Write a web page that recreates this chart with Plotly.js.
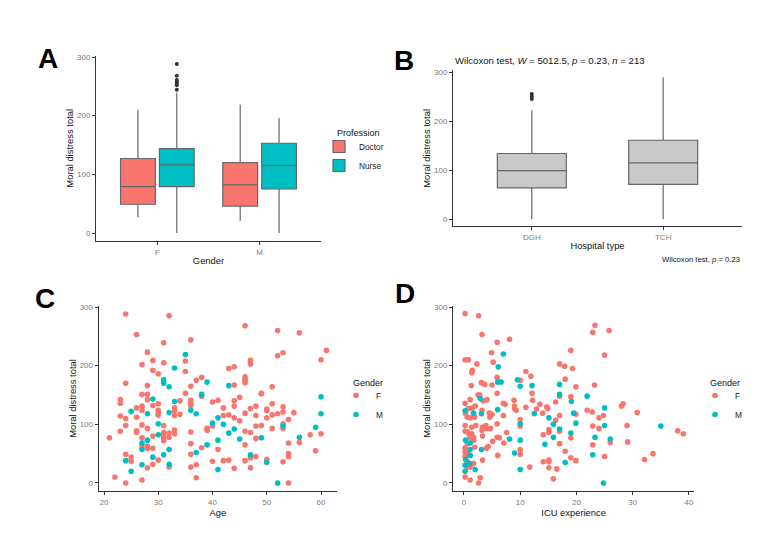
<!DOCTYPE html>
<html>
<head>
<meta charset="utf-8">
<script src="https://cdn.plot.ly/plotly-3.0.1.min.js"></script>
<style>html,body{margin:0;padding:0;background:#fff}#chart{width:779px;height:551px}</style>
</head>
<body>
<div id="chart"></div>
<script>
// ---------- DATA ----------
// Panel A: moral distress by gender and profession (box statistics)
const genderCats = ['F', 'M'];
const professions = ['Doctor', 'Nurse'];
const doctorQ1 = [49, 46];
const doctorMedian = [79, 82];
const doctorQ3 = [127, 120];
const doctorLower = [27, 21];
const doctorUpper = [210, 219];
const nurseQ1 = [79, 75];
const nurseMedian = [116, 115];
const nurseQ3 = [144, 153];
const nurseLower = [0, 0];
const nurseUpper = [239, 196];
const nurseOutliersF = [288, 268, 261, 258, 255, 252, 244];

// Panel B: moral distress by hospital type
const hospitalTypes = ['DGH', 'TCH'];
const hospQ1 = [64, 71];
const hospMedian = [99, 115];
const hospQ3 = [134, 161];
const hospLower = [0, 0];
const hospUpper = [222, 289];
const dghOutliers = [255, 250, 245];

// Panel C: age vs moral distress
const cAgeF = [21,22,24,24,24,24,24,24,23,23,23,23,25,25,26,26,26,26,26,27,27,27,27,27,27,27,27,28,28,28,28,28,28,28,28,29,29,29,29,29,29,30,30,30,30,30,30,31,31,31,31,31,31,31,32,32,32,32,33,33,33,33,33,34,34,35,35,35,36,36,36,36,36,36,36,36,36,37,37,37,38,38,38,39,39,40,40,40,41,41,42,42,42,43,43,43,44,44,44,44,44,44,45,45,46,46,46,46,46,46,46,46,46,47,47,47,47,47,47,48,48,48,48,48,49,49,49,50,50,50,50,51,51,51,51,52,52,52,53,53,53,53,53,53,54,54,54,54,54,55,56,56,58,59,60,60,61];
const cMdF = [77,10,288,170,110,98,49,0,142,136,114,88,44,37,253,128,112,89,86,202,151,131,124,99,77,63,5,223,166,151,142,93,63,59,26,209,192,132,80,59,32,186,135,124,119,116,39,239,205,98,86,82,77,72,285,85,78,27,128,123,115,90,84,140,117,208,190,153,244,165,141,135,132,87,67,49,27,175,31,9,180,148,60,93,90,138,97,37,141,57,128,115,38,195,116,39,198,167,140,131,111,25,146,106,268,181,177,174,171,119,88,65,38,209,203,127,86,43,26,131,115,97,76,45,153,152,98,126,123,111,40,164,135,116,93,260,217,118,222,130,121,101,93,36,108,68,50,45,0,120,256,69,82,55,210,84,226];
const cAgeM = [24,25,25,27,27,27,28,28,29,29,30,30,31,31,31,32,32,32,32,33,33,35,36,37,37,38,39,39,40,41,41,41,42,43,43,44,45,47,49,50,52,53,56,59,60,60];
const cMdM = [38,122,20,68,57,31,118,73,143,44,101,82,176,170,48,164,120,57,32,196,139,219,124,118,52,151,172,65,102,111,73,23,100,166,85,92,75,48,77,35,0,97,78,95,147,118];

// Panel D: ICU experience vs moral distress
const dExpF = [0.2,0.2,0.8,0.2,0.3,0.2,0.2,0.2,0.2,0.2,0.2,0.6,0.7,0.6,0.7,0.6,0.6,0.8,1.1,1.1,0.9,1.1,1.1,1.1,1.4,1.4,1.3,1.4,1.5,1.5,1.7,1.7,1.7,1.9,1.9,2.0,2.1,2.3,2.5,2.6,2.6,2.8,2.9,3.2,3.1,3.2,3.3,3.2,3.3,3.3,3.4,3.7,3.9,4.0,4.1,4.0,4.3,4.5,4.6,4.7,4.9,5.0,5.0,5.1,5.2,5.9,5.9,5.9,5.9,5.9,6.3,6.0,7.0,7.3,7.0,7.1,7.6,8.1,8.9,9.0,9.0,9.3,10,10,10,10,10,11,11,11.7,11.9,12.1,12.2,12.9,13.5,14.0,14.1,14.1,14.7,14.9,15.1,15.1,15.1,15.1,15.1,15.9,16.3,16.3,16.5,17,17,17,17,17,17.9,18,18,19,19,19,19,19.3,19.9,19.9,19.9,21.9,22.8,22.9,22.9,22.9,23.2,23.3,24,24,24.8,25,25,25.8,26,28,28.3,29,29.1,30.8,32.1,33.6,38,39];
const dMdF = [289,210,210,136,118,98,88,60,53,45,10,112,87,67,50,36,27,127,142,111,83,77,27,5,84,95,166,188,192,128,78,73,33,61,112,131,98,203,150,285,0,150,9,253,171,124,95,90,80,39,140,168,98,93,142,59,62,119,112,93,222,117,167,71,206,240,180,153,101,78,77,47,136,134,115,68,86,245,141,131,127,124,175,108,97,57,49,190,129,27,182,153,141,126,134,119,82,36,130,127,91,86,39,36,26,7,107,138,24,203,148,115,88,67,199,177,54,226,147,77,43,195,117,38,164,124,121,97,257,65,167,269,111,93,115,218,45,260,69,131,135,98,70,120,40,50,89,84];
const dExpM = [0.2,0.3,0.3,0.2,0.2,1.1,1.1,1.1,1.0,1.7,2.0,2.9,3.1,3.1,6.1,6.0,6.0,6.6,7.0,8.1,9.0,9.5,10,10,10,10,12.1,12.5,14.4,15.1,15.9,15.9,17,17,17,18,19.1,19,19.5,19.9,21.9,22.9,23.3,24.8,25,25,26,35];
const dMdM = [123,73,40,30,20,68,57,47,33,119,23,144,118,57,198,172,125,172,220,75,51,176,165,101,73,23,166,118,66,111,100,78,168,151,92,35,139,85,119,102,148,48,78,0,128,98,75,97];

// ---------- STYLE ----------
const W = 779, H = 551;
const FONT = 'Liberation Sans, Arial, sans-serif';
const colF = '#F8766D', colM = '#00BFC4';
const boxLine = '#666666';
const tickFont = {family: FONT, size: 8, color: '#7a7a7a'};
const titleFont = {family: FONT, size: 9.4, color: '#111'};
const dx = (a, b) => [a / W, b / W];
const dy = (top, bottom) => [1 - bottom / H, 1 - top / H];

function axisBase(extra) {
  return Object.assign({
    showline: true, linecolor: '#333', linewidth: 1,
    ticks: 'outside', ticklen: 3, tickcolor: '#333', tickwidth: 1,
    showgrid: false, zeroline: false, tickfont: tickFont, automargin: false,
    fixedrange: true
  }, extra);
}
const yTicks = {tickmode: 'array', tickvals: [0, 100, 200, 300]};

// ---------- TRACES ----------
const traces = [];
// Panel A positions derived from category index
const profOffset = {Doctor: -0.19, Nurse: 0.19};
const boxW = 0.34;
const posA = prof => genderCats.map((g, i) => i + profOffset[prof]);

traces.push({
  type: 'box', name: professions[0], x: posA('Doctor'),
  q1: doctorQ1, median: doctorMedian, q3: doctorQ3,
  lowerfence: doctorLower, upperfence: doctorUpper,
  width: boxW, whiskerwidth: 0, fillcolor: colF,
  line: {color: boxLine, width: 1.2}, xaxis: 'x', yaxis: 'y',
  legend: 'legend', hoverinfo: 'skip'
});
traces.push({
  type: 'box', name: professions[1], x: posA('Nurse'),
  q1: nurseQ1, median: nurseMedian, q3: nurseQ3,
  lowerfence: nurseLower, upperfence: nurseUpper,
  width: boxW, whiskerwidth: 0, fillcolor: colM,
  line: {color: boxLine, width: 1.2}, xaxis: 'x', yaxis: 'y',
  legend: 'legend', hoverinfo: 'skip'
});
traces.push({
  type: 'scatter', mode: 'markers', showlegend: false,
  x: nurseOutliersF.map(() => genderCats.indexOf('F') + profOffset.Nurse),
  y: nurseOutliersF, marker: {color: '#333', size: 4},
  xaxis: 'x', yaxis: 'y', hoverinfo: 'skip'
});

// Panel B
traces.push({
  type: 'box', name: 'Hospital', x: hospitalTypes,
  q1: hospQ1, median: hospMedian, q3: hospQ3,
  lowerfence: hospLower, upperfence: hospUpper,
  whiskerwidth: 0, fillcolor: '#c9c9c9',
  line: {color: boxLine, width: 1.2}, xaxis: 'x2', yaxis: 'y2',
  showlegend: false, hoverinfo: 'skip'
});
traces.push({
  type: 'scatter', mode: 'markers', showlegend: false,
  x: dghOutliers.map(() => hospitalTypes[0]), y: dghOutliers,
  marker: {color: '#333', size: 4}, xaxis: 'x2', yaxis: 'y2', hoverinfo: 'skip'
});

// Panel C
traces.push({type: 'scatter', mode: 'markers', name: 'F', x: cAgeF, y: cMdF,
  marker: {color: colF, size: 5.6}, xaxis: 'x3', yaxis: 'y3', legend: 'legend2'});
traces.push({type: 'scatter', mode: 'markers', name: 'M', x: cAgeM, y: cMdM,
  marker: {color: colM, size: 5.6}, xaxis: 'x3', yaxis: 'y3', legend: 'legend2'});
// Panel D
traces.push({type: 'scatter', mode: 'markers', name: 'F', x: dExpF, y: dMdF,
  marker: {color: colF, size: 5.6}, xaxis: 'x4', yaxis: 'y4', legend: 'legend3'});
traces.push({type: 'scatter', mode: 'markers', name: 'M', x: dExpM, y: dMdM,
  marker: {color: colM, size: 5.6}, xaxis: 'x4', yaxis: 'y4', legend: 'legend3'});

// ---------- LAYOUT ----------
const legendBase = (x, yMid) => ({
  x: x / W, y: 1 - yMid / H, xanchor: 'left', yanchor: 'middle',
  bgcolor: 'rgba(0,0,0,0)', borderwidth: 0, itemwidth: 30, tracegroupgap: 0,
  font: {family: FONT, size: 8.3, color: '#222'}
});

const note = (t, x, y, size, anchor, weight) => ({
  text: t, x: x / W, y: 1 - y / H, xref: 'paper', yref: 'paper',
  showarrow: false, xanchor: anchor, yanchor: 'middle',
  font: {family: FONT, size: size, color: weight ? '#000' : '#111'}
});

const layout = {
  width: W, height: H, margin: {l: 0, r: 0, t: 0, b: 0},
  paper_bgcolor: '#fff', plot_bgcolor: '#fff', showlegend: true,
  xaxis: axisBase({domain: dx(96, 321), range: [-0.6, 1.6], tickmode: 'array',
    tickvals: genderCats.map((g, i) => i), ticktext: genderCats,
    title: {text: 'Gender', font: titleFont, standoff: 1}}),
  yaxis: axisBase(Object.assign({domain: dy(55.6, 241), range: [-13.6, 302.4],
    title: {text: 'Moral distress total', font: titleFont, standoff: 1}}, yTicks)),
  xaxis2: axisBase({domain: dx(453, 742), range: [-0.6, 1.6], type: 'category',
    categoryarray: hospitalTypes, anchor: 'y2',
    title: {text: 'Hospital type', font: titleFont, standoff: 1}}),
  yaxis2: axisBase(Object.assign({domain: dy(70.3, 226.4), range: [-14.5, 303.5], anchor: 'x2',
    title: {text: 'Moral distress total', font: titleFont, standoff: 1}}, yTicks)),
  xaxis3: axisBase({domain: dx(98.6, 337.3), range: [19, 63], anchor: 'y3',
    tickmode: 'array', tickvals: [20, 30, 40, 50, 60],
    title: {text: 'Age', font: titleFont, standoff: 1}}),
  yaxis3: axisBase(Object.assign({domain: dy(305.6, 491.4), range: [-14.4, 302.4], anchor: 'x3',
    title: {text: 'Moral distress total', font: titleFont, standoff: 1}}, yTicks)),
  xaxis4: axisBase({domain: dx(453, 694.3), range: [-1.95, 40.95], anchor: 'y4',
    tickmode: 'array', tickvals: [0, 10, 20, 30, 40],
    title: {text: 'ICU experience', font: titleFont, standoff: 1}}),
  yaxis4: axisBase(Object.assign({domain: dy(305.6, 491.4), range: [-14.4, 302.4], anchor: 'x4',
    title: {text: 'Moral distress total', font: titleFont, standoff: 1}}, yTicks)),
  boxmode: 'overlay',
  boxgap: 0.25,
  legend: legendBase(319, 156),
  legend2: legendBase(336, 405),
  legend3: legendBase(695, 405),
  annotations: [
    note('<b>A</b>', 48, 58, 28, 'center', true),
    note('<b>B</b>', 404, 60, 28, 'center', true),
    note('<b>C</b>', 45, 298, 28, 'center', true),
    note('<b>D</b>', 405, 293, 28, 'center', true),
    note('Profession', 335, 133, 9, 'left'),
    note('Gender', 351, 383, 9, 'left'),
    note('Gender', 708, 383, 9, 'left'),
    note('Wilcoxon test, <i>W</i> = 5012.5, <i>p</i> = 0.23, <i>n</i> = 213', 453, 60, 9.6, 'left'),
    note('Wilcoxon test, <i>p</i> = 0.23', 742, 259, 7.7, 'right')
  ]
};

Plotly.newPlot('chart', traces, layout, {displayModeBar: false, staticPlot: true});
</script>
</body>
</html>
